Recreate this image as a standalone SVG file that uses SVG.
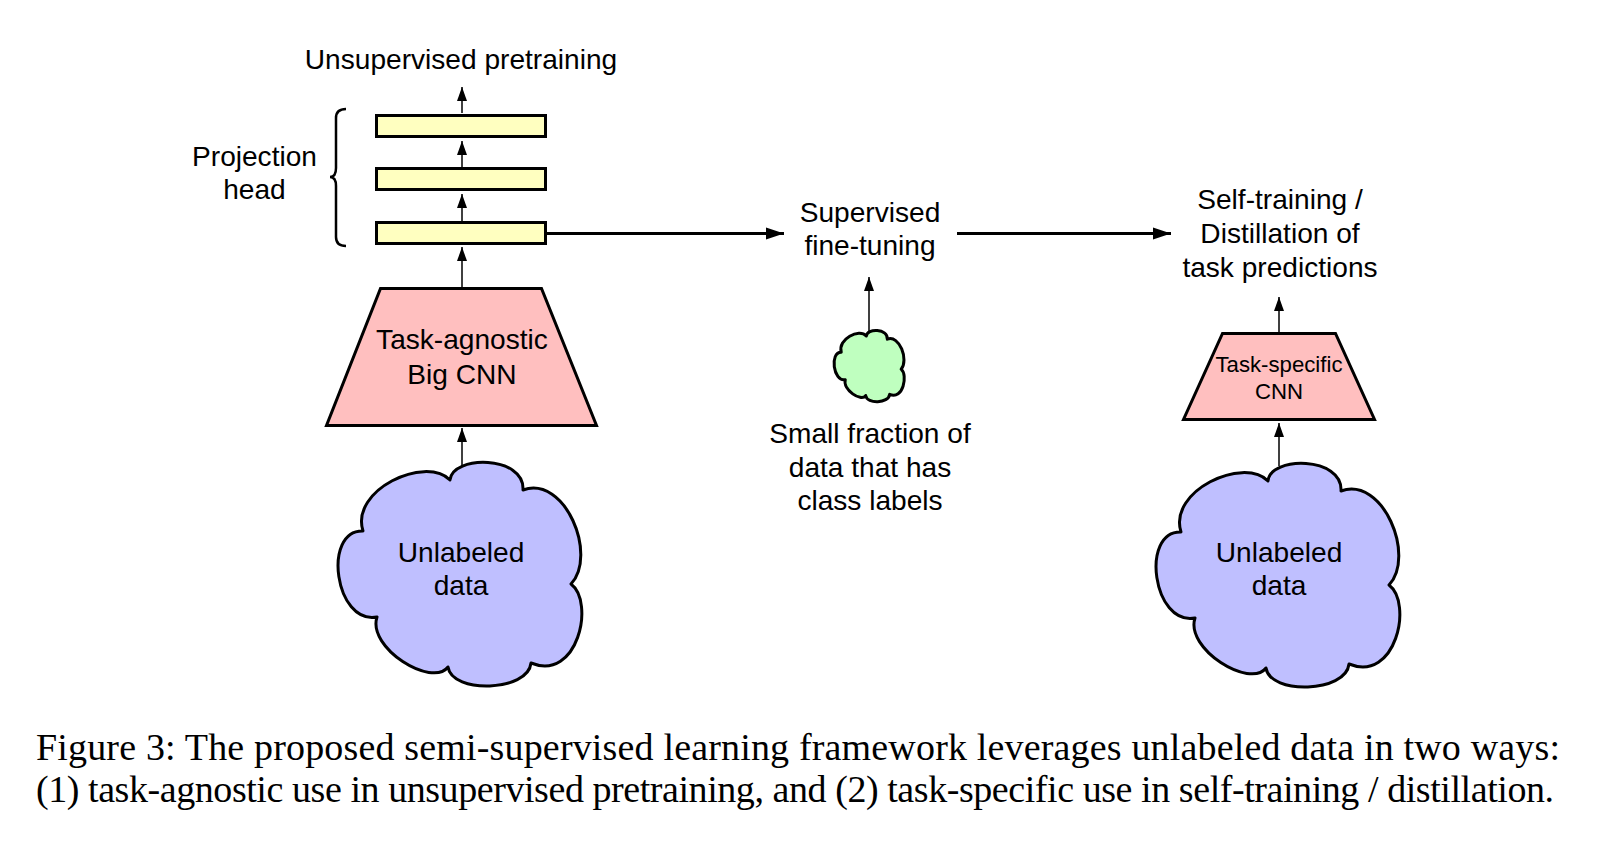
<svg xmlns="http://www.w3.org/2000/svg" xmlns:xlink="http://www.w3.org/1999/xlink" width="1622" height="864" viewBox="0 0 1622 864">
<style>
.lbl{font-family:"Liberation Sans",Arial,sans-serif;font-size:28.1px;fill:#000;text-anchor:middle}
.sm{font-size:22.2px}
.cap{font-family:"Liberation Serif","Times New Roman",serif;font-size:38px;fill:#000}
.box{fill:#FFFFC0;stroke:#000;stroke-width:3}
.cnn{fill:#FFBFBF;stroke:#000;stroke-width:3;stroke-linejoin:miter}
.cloudB{fill:#BFBFFF;stroke:#000;stroke-width:3;stroke-linejoin:round}
.cloudG{fill:#BFFFBF;stroke:#000;stroke-width:3;stroke-linejoin:round}
.thin{fill:none;stroke:#000;stroke-width:1.5}
.thick{fill:none;stroke:#000;stroke-width:3}
</style>
<defs>
<marker id="arr" markerUnits="userSpaceOnUse" markerWidth="14" markerHeight="10" refX="14" refY="5" orient="auto" overflow="visible"><path d="M0,0 L14,5 L0,10 Z" fill="#000"/></marker>
<marker id="arrT" markerUnits="userSpaceOnUse" markerWidth="18" markerHeight="12" refX="18" refY="6" orient="auto" overflow="visible"><path d="M0,0 L18,6 L0,12 Z" fill="#000"/></marker>
<path id="cloud" d="M450,480 C452,455 525,455 523,490 C565,475 598,555 571,584 C595,602 578,682 531,663 C528,692 452,694 448,667 C432,688 367,648 377,617 C335,625 322,530 363,531 C350,490 425,455 450,480 Z"/>
</defs>

<g id="connectors">
<path class="thin" d="M462,113 L462,87" marker-end="url(#arr)"/>
<path class="thin" d="M462,167 L462,141" marker-end="url(#arr)"/>
<path class="thin" d="M462,221 L462,194" marker-end="url(#arr)"/>
<path class="thin" d="M462,287 L462,247" marker-end="url(#arr)"/>
<path class="thin" d="M462,466 L462,428" marker-end="url(#arr)"/>
<path class="thick" d="M547,233.5 L784,233.5" marker-end="url(#arrT)"/>
<path class="thick" d="M957,233.5 L1171,233.5" marker-end="url(#arrT)"/>
<path class="thin" d="M869,331 L869,277" marker-end="url(#arr)"/>
<path class="thin" d="M1279,466 L1279,423" marker-end="url(#arr)"/>
<path class="thin" d="M1279,333 L1279,297" marker-end="url(#arr)"/>
</g>

<g id="pretrain-label"><text class="lbl" x="461" y="69">Unsupervised pretraining</text></g>

<g id="projection-head">
<rect class="box" x="376.5" y="115.5" width="169" height="21"/>
<rect class="box" x="376.5" y="168.5" width="169" height="21"/>
<rect class="box" x="376.5" y="222.5" width="169" height="21"/>
</g>

<g id="projection-brace">
<path d="M346,109 C339,109 336,112 336,118 L336,168 C336,174 334,177 330,177 C334,177 336,180 336,186 L336,237 C336,243 339,246 346,246" fill="none" stroke="#000" stroke-width="2.5"/>
<text class="lbl" x="254.5" y="166">Projection</text>
<text class="lbl" x="254.5" y="199">head</text>
</g>

<g id="big-cnn">
<polygon class="cnn" points="380.5,288.5 541.5,288.5 596.5,425.5 326.5,425.5"/>
<text class="lbl" x="462" y="349">Task-agnostic</text>
<text class="lbl" x="462" y="384">Big CNN</text>
</g>

<g id="unlabeled-1">
<use xlink:href="#cloud" href="#cloud" class="cloudB"/>
<text class="lbl" x="461" y="562">Unlabeled</text>
<text class="lbl" x="461" y="595">data</text>
</g>

<g id="finetune">
<text class="lbl" x="870" y="222">Supervised</text>
<text class="lbl" x="870" y="255">fine-tuning</text>
</g>

<g id="labeled-small">
<path d="M450,480 C452,455 525,455 523,490 C565,475 598,555 571,584 C595,602 578,682 531,663 C528,692 452,694 448,667 C432,688 367,648 377,617 C335,625 322,530 363,531 C350,490 425,455 450,480 Z" class="cloudG" transform="matrix(0.288 0 0 0.3186 736.7 183.1)" vector-effect="non-scaling-stroke"/>
<text class="lbl" x="870" y="443">Small fraction of</text>
<text class="lbl" x="870" y="477">data that has</text>
<text class="lbl" x="870" y="510">class labels</text>
</g>

<g id="self-training">
<text class="lbl" x="1280" y="209">Self-training /</text>
<text class="lbl" x="1280" y="243">Distillation of</text>
<text class="lbl" x="1280" y="277">task predictions</text>
</g>

<g id="task-cnn">
<polygon class="cnn" points="1222.5,333.5 1335.5,333.5 1374.5,419.5 1183.5,419.5"/>
<text class="lbl sm" x="1279" y="372">Task-specific</text>
<text class="lbl sm" x="1279" y="399">CNN</text>
</g>

<g id="unlabeled-2">
<use xlink:href="#cloud" href="#cloud" class="cloudB" transform="translate(818,1)"/>
<text class="lbl" x="1279" y="562">Unlabeled</text>
<text class="lbl" x="1279" y="595">data</text>
</g>

<g id="caption">
<text class="cap" x="36" y="760" textLength="1524" lengthAdjust="spacing">Figure 3: The proposed semi-supervised learning framework leverages unlabeled data in two ways:</text>
<text class="cap" x="36" y="802" textLength="1518" lengthAdjust="spacing">(1) task-agnostic use in unsupervised pretraining, and (2) task-specific use in self-training / distillation.</text>
</g>
</svg>
